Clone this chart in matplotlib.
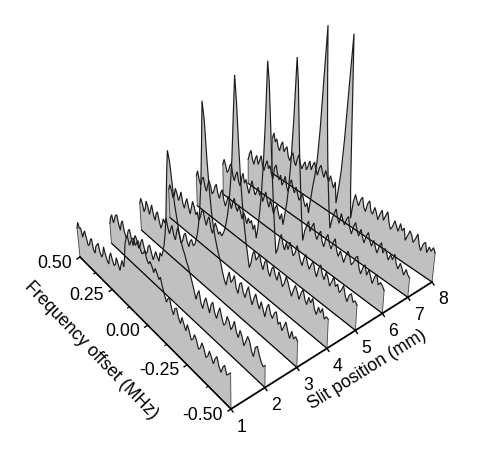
import numpy as np
import matplotlib
matplotlib.use("Agg")
import matplotlib.pyplot as plt

plt.rcParams['font.family'] = ['Liberation Sans', 'DejaVu Sans']

# values, far end (+0.50 MHz) first
slit_1 = [29,36,31,33,25,30,34,28,22,24,30,33,
          23,21,29,32,35,27,24,28,37,31,26,24,
          33,38,32,28,31,39,34,29,36,42,37,48,
          63,70,74,66,71,75,78,72,76,80,74,70,
          72,76,69,66,70,67,62,68,65,60,64,56,
          50,44,49,52,43,38,46,48,40,36,44,39,
          34,42,37,30,33,39,35,28,31,38,34,27,
          30,37,33,28,35,39,31,27,34,38,30,33,36]
slit_2 = [20,27,31,24,29,34,36,28,23,31,35,26,
          21,24,30,33,25,19,27,32,29,22,25,31,
          35,28,23,26,33,36,30,24,29,35,31,28,
          38,36,42,50,62,78,104,130,152,142,122,102,
          90,78,70,64,60,54,50,44,38,32,24,31,
          36,25,21,30,35,29,23,33,37,28,24,32,
          38,30,24,27,36,33,26,31,38,29,25,34,
          30,22,28,35,32,24,20,31,34,27,22,19,22]
slit_3 = [27,33,29,22,26,35,31,24,30,36,27,23,
          31,34,26,20,25,32,29,35,27,22,28,33,
          24,21,30,36,28,23,27,34,37,30,26,33,
          36,31,34,40,48,60,78,102,140,187,170,132,
          104,82,68,58,50,44,38,30,24,20,29,36,
          27,31,37,26,22,33,36,28,24,32,38,29,
          23,31,37,30,25,34,28,22,33,38,30,27,
          34,37,26,30,23,29,35,28,22,31,25,29,26]
slit_4 = [28,34,30,23,27,35,31,25,30,36,26,22,
          29,34,27,21,28,36,32,25,29,22,26,33,
          36,28,23,30,34,24,20,27,33,29,24,28,
          25,29,34,42,52,66,86,112,155,198,170,130,
          98,74,56,40,28,16,22,32,37,29,33,38,
          30,25,34,38,28,24,33,37,30,26,36,31,
          24,29,37,33,27,22,30,36,31,25,33,38,
          30,26,35,31,37,28,24,33,29,35,26,30,29]
slit_5 = [30,36,28,24,31,34,26,22,29,35,31,24,
          27,33,37,29,25,32,36,27,22,28,34,30,
          24,31,37,29,26,33,28,22,30,27,21,28,
          24,28,20,26,14,26,42,62,92,136,199,178,
          138,98,66,38,14,20,31,37,29,24,33,27,
          36,31,25,29,38,33,26,22,31,36,28,24,
          30,35,27,22,32,37,29,25,34,30,23,29,
          35,27,31,24,28,34,26,21,29,32,25,28,25]
slit_6 = [30,36,31,25,28,34,37,26,22,29,33,24,
          21,30,36,27,32,25,20,28,35,29,23,27,
          33,26,30,22,28,34,26,21,29,24,18,25,
          29,22,17,24,14,26,38,56,84,126,189,165,
          124,88,60,34,13,24,30,36,27,33,38,29,
          24,31,35,26,22,32,37,29,25,33,38,28,
          23,30,26,21,29,35,31,24,28,34,37,27,
          22,30,34,25,32,27,21,29,33,24,28,26,23]
slit_7 = [24,31,35,27,23,30,34,26,31,37,28,24,
          31,36,29,33,26,22,34,38,30,25,31,22,
          27,33,24,20,29,34,27,23,30,24,19,23,
          28,21,17,22,13,28,42,54,70,102,155,209,
          156,112,78,52,30,13,24,30,36,28,24,35,
          30,26,33,37,27,22,31,36,29,25,33,27,
          22,30,35,28,24,31,26,21,29,34,25,31,
          27,22,29,25,32,24,20,27,23,18,25,21,19]
slit_8 = [35,41,33,37,30,27,34,38,29,33,36,27,
          24,30,34,26,23,31,36,28,24,29,33,26,
          31,37,29,35,39,32,28,36,40,34,30,38,
          33,29,36,31,26,33,13,28,46,80,134,188,
          136,82,36,8,26,34,29,25,32,36,27,24,
          33,37,28,26,34,30,24,31,36,27,33,38,
          29,23,27,34,30,26,35,29,33,22,28,34,
          31,25,30,36,27,22,30,33,24,31,28,33,29]
traces = [slit_1, slit_2, slit_3, slit_4, slit_5, slit_6, slit_7, slit_8]

slit_ticks = [1, 2, 3, 4, 5, 6, 7, 8]
freq_major = [0.50, 0.25, 0.00, -0.25, -0.50]
freq_labels = ['0.50', '0.25', '0.00', '-0.25', '-0.50']
freq_minor = [0.375, 0.125, -0.125, -0.375]

# corners of the floor in the picture: (slit, freq)
NEAR_1 = (231, 409)
NEAR_8 = (432, 282)
FAR_8 = (272, 173)
FAR_1 = (80, 257)
LEAN = 0.0006   # verticals converge downward
LEAN_X = 250


def floor_matrix():
    # square to quadrilateral
    x0, y0 = NEAR_1
    x1, y1 = NEAR_8
    x2, y2 = FAR_8
    x3, y3 = FAR_1
    dx1, dy1 = x1 - x2, y1 - y2
    dx2, dy2 = x3 - x2, y3 - y2
    sx, sy = x0 - x1 + x2 - x3, y0 - y1 + y2 - y3
    det = dx1 * dy2 - dy1 * dx2
    g = (sx * dy2 - sy * dx2) / det
    h = (dx1 * sy - dy1 * sx) / det
    return np.array([[x1 - x0 + g * x1, x3 - x0 + h * x3, x0],
                     [y1 - y0 + g * y1, y3 - y0 + h * y3, y0],
                     [g, h, 1.0]])


MAT = floor_matrix()


def project(slit, freq, height=0.0):
    s = (np.asarray(slit, dtype=float) - 1) / 7
    u = np.asarray(freq, dtype=float) + 0.5
    w = MAT[2, 0] * s + MAT[2, 1] * u + 1
    x = (MAT[0, 0] * s + MAT[0, 1] * u + MAT[0, 2]) / w
    y = (MAT[1, 0] * s + MAT[1, 1] * u + MAT[1, 2]) / w
    return x + (x - LEAN_X) * LEAN * height, y - height


fig = plt.figure(figsize=(4.85, 4.57), dpi=100)
ax = fig.add_axes([0, 0, 1, 1])
ax.set_xlim(0, 485)
ax.set_ylim(457, 0)
ax.axis('off')

# back to front so the nearer walls hide the ones behind
for slit, values in reversed(list(zip(slit_ticks, traces))):
    values = np.array(values, dtype=float)
    freq = np.linspace(0.5, -0.5, len(values))
    tx, ty = project(slit, freq, values)
    bx, by = project(slit, freq)
    ax.fill(np.r_[tx, bx[::-1]], np.r_[ty, by[::-1]], color='#c0c0c0', lw=0)
    ax.plot(tx, ty, color='#1c1c1c', lw=0.85, solid_joinstyle='miter')
    ax.plot(bx, by, color='black', lw=0.9)
    ax.plot([tx[-1], bx[-1]], [ty[-1], by[-1]], color='#444444', lw=0.6)
    ax.plot([tx[0], bx[0]], [ty[0], by[0]], color='#444444', lw=0.6)

# axes
x, y = project([1, 8], [-0.5, -0.5])
ax.plot(x, y, color='black', lw=1.3, solid_capstyle='projecting')
x, y = project([1, 1], [0.5, -0.5])
ax.plot(x, y, color='black', lw=1.0)

for slit in slit_ticks:
    x, y = project(slit, -0.5)
    ax.plot([x, x + 2], [y, y + 3], color='black', lw=1.0)
    ax.text(x + 11, y + 18, str(slit), fontsize=12.7, ha='center', va='center')

for freq, label in zip(freq_major, freq_labels):
    x, y = project(1, freq)
    ax.plot([x, x - 3], [y, y + 2], color='black', lw=1.0)
    ax.text(x - 8, y + 6, label, fontsize=12.7, ha='right', va='center')

for freq in freq_minor:
    x, y = project(1, freq)
    ax.plot([x, x - 2], [y, y + 1], color='black', lw=0.8)

ax.text(367, 370, 'Slit position (mm)', fontsize=12.7, rotation=32,
        rotation_mode='anchor', ha='center', va='center')
ax.text(91, 350, 'Frequency offset (MHz)', fontsize=12.7, rotation=-46,
        rotation_mode='anchor', ha='center', va='center')

fig.savefig('out.png', dpi=100)
